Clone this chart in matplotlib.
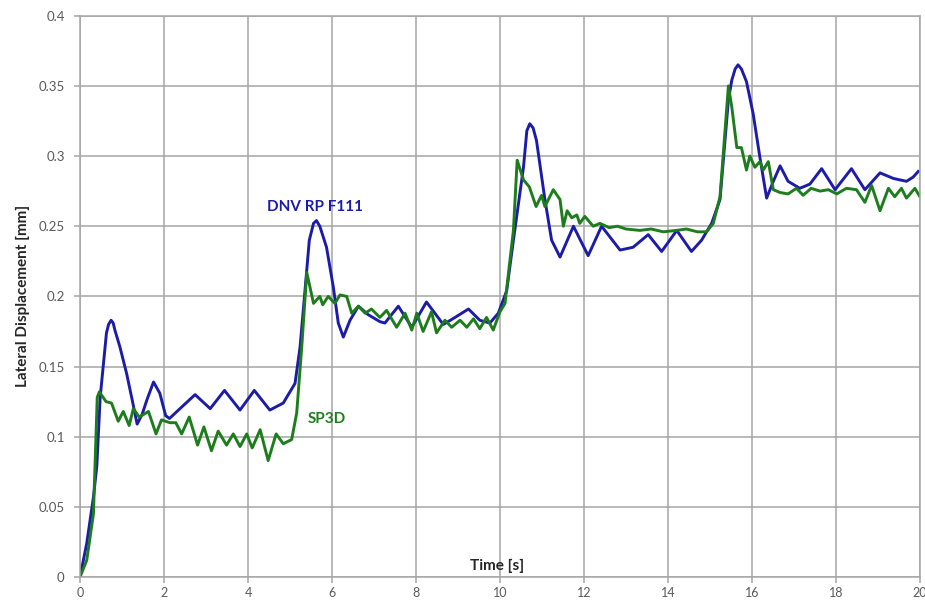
"""Lateral displacement time history: DNV RP F111 vs SP3D."""

import matplotlib
matplotlib.use("Agg")
import matplotlib.pyplot as plt
import numpy as np

plt.rcParams["font.family"] = ["Lato", "DejaVu Sans"]

# time [s] / lateral displacement [mm]
blue_t = [0, 0.16, 0.32, 0.40, 0.48, 0.63, 0.68, 0.74, 0.79, 0.83, 0.95, 1.11,
          1.23, 1.36, 1.48, 1.59, 1.75, 1.90, 2.04, 2.13, 2.38, 2.74,
          3.10, 3.44, 3.81, 4.15, 4.52, 4.84, 5.12, 5.24, 5.38, 5.46, 5.56,
          5.63, 5.71, 5.87, 6.03, 6.15, 6.27, 6.43, 6.63, 6.86, 7.14, 7.26,
          7.58, 7.90, 8.25, 8.65, 8.93, 9.25, 9.52, 9.76, 9.96, 10.16,
          10.32, 10.56, 10.64, 10.71, 10.79, 10.87, 11.07, 11.23, 11.43, 11.75, 12.10, 12.42,
          12.86, 13.17, 13.53, 13.85, 14.21, 14.56, 14.80, 15.04, 15.24, 15.44,
          15.52, 15.60, 15.67, 15.75, 15.87, 16.03, 16.19, 16.35, 16.51, 16.67, 16.86, 17.14,
          17.38, 17.66, 17.98, 18.37, 18.69, 19.05, 19.37, 19.68, 19.84, 19.96]
blue_y = [0, 0.024, 0.057, 0.079, 0.128, 0.174, 0.180, 0.183, 0.181, 0.176, 0.164, 0.145,
          0.128, 0.109, 0.116, 0.126, 0.139, 0.131, 0.115, 0.113, 0.120, 0.130,
          0.120, 0.133, 0.119, 0.133, 0.119, 0.124, 0.138, 0.164, 0.212, 0.240, 0.252,
          0.254, 0.250, 0.235, 0.207, 0.181, 0.171, 0.183, 0.193, 0.187, 0.182, 0.181,
          0.193, 0.178, 0.196, 0.180, 0.185, 0.191, 0.183, 0.181, 0.188, 0.204,
          0.240, 0.292, 0.318, 0.323, 0.320, 0.311, 0.269, 0.240, 0.228, 0.250, 0.229, 0.250,
          0.233, 0.235, 0.244, 0.232, 0.247, 0.232, 0.240, 0.252, 0.269, 0.340,
          0.354, 0.362, 0.365, 0.362, 0.353, 0.330, 0.299, 0.270, 0.282, 0.293, 0.282, 0.277,
          0.280, 0.291, 0.276, 0.291, 0.276, 0.288, 0.284, 0.282, 0.285, 0.289]

green_t = [0, 0.16, 0.32, 0.41, 0.46, 0.62, 0.75, 0.91, 1.03, 1.17,
           1.27, 1.41, 1.63, 1.81, 1.94, 2.14, 2.28, 2.42, 2.60, 2.80,
           2.95, 3.13, 3.29, 3.49, 3.65, 3.81, 3.97, 4.10, 4.29, 4.48,
           4.67, 4.84, 5.04, 5.16, 5.28, 5.40, 5.56, 5.71, 5.78, 5.91,
           6.07, 6.19, 6.35, 6.47, 6.63, 6.79, 6.94, 7.14, 7.30, 7.54,
           7.74, 7.90, 8.02, 8.17, 8.37, 8.49, 8.69, 8.85, 9.05, 9.21,
           9.37, 9.52, 9.68, 9.84, 10.00, 10.12, 10.32, 10.41, 10.56, 10.70,
           10.86, 10.99, 11.07, 11.27, 11.43, 11.51, 11.60, 11.71, 11.83, 11.90,
           12.02, 12.22, 12.38, 12.60, 12.80, 13.00, 13.33, 13.60, 13.89, 14.20,
           14.44, 14.70, 14.92, 15.08, 15.24, 15.44, 15.52, 15.64, 15.75, 15.87,
           15.95, 16.07, 16.19, 16.27, 16.39, 16.51, 16.67, 16.86, 17.06, 17.22,
           17.41, 17.62, 17.82, 18.02, 18.25, 18.49, 18.69, 18.85, 19.05, 19.25,
           19.40, 19.56, 19.68, 19.88, 20.00]
green_y = [0, 0.012, 0.045, 0.128, 0.132, 0.125, 0.124, 0.111, 0.118, 0.108,
           0.120, 0.114, 0.118, 0.102, 0.112, 0.110, 0.110, 0.102, 0.114, 0.094,
           0.107, 0.090, 0.104, 0.094, 0.102, 0.093, 0.102, 0.092, 0.105, 0.083,
           0.102, 0.095, 0.098, 0.117, 0.164, 0.217, 0.195, 0.200, 0.194, 0.200,
           0.195, 0.201, 0.200, 0.188, 0.193, 0.188, 0.191, 0.185, 0.190, 0.178,
           0.188, 0.176, 0.188, 0.175, 0.189, 0.174, 0.183, 0.178, 0.183, 0.178,
           0.184, 0.177, 0.185, 0.176, 0.189, 0.195, 0.247, 0.297, 0.283, 0.278,
           0.264, 0.272, 0.264, 0.276, 0.269, 0.250, 0.261, 0.256, 0.258, 0.252,
           0.257, 0.250, 0.252, 0.249, 0.250, 0.248, 0.247, 0.248, 0.246, 0.247,
           0.248, 0.246, 0.246, 0.252, 0.271, 0.350, 0.335, 0.306, 0.306, 0.290,
           0.300, 0.292, 0.296, 0.290, 0.296, 0.276, 0.274, 0.273, 0.277, 0.272,
           0.277, 0.275, 0.276, 0.273, 0.277, 0.276, 0.267, 0.279, 0.261, 0.277,
           0.271, 0.277, 0.270, 0.277, 0.271]

BLUE = "#1c1ca8"
GREEN = "#1d7d1d"
GRID = "#a6a6a6"
TICK_TEXT = "#595959"

fig = plt.figure(figsize=(9.25, 6.03), dpi=100)
ax = fig.add_axes([0.0865, 0.043, 0.908, 0.931])

ax.plot(blue_t, blue_y, color=BLUE, lw=2.1, solid_joinstyle="round")
ax.plot(green_t, green_y, color=GREEN, lw=2.1, solid_joinstyle="round")

ax.text(5.6, 0.2635, "DNV RP F111", color=BLUE, fontsize=11,
        fontweight="bold", ha="center", va="center")
ax.text(5.87, 0.1123, "SP3D", color=GREEN, fontsize=11,
        fontweight="bold", ha="center", va="center")

ax.set_xlim(0, 20)
ax.set_ylim(0, 0.4)
ax.set_xticks(np.arange(0, 21, 2))
ax.set_yticks(np.arange(0, 0.401, 0.05))
ax.set_yticklabels(["0", "0.05", "0.1", "0.15", "0.2", "0.25", "0.3", "0.35", "0.4"])
ax.grid(True, color=GRID, lw=1.1)
ax.set_axisbelow(True)
for s in ax.spines.values():
    s.set_color(GRID)
    s.set_linewidth(1.1)
ax.tick_params(colors=GRID, labelcolor=TICK_TEXT, labelsize=9.5, length=4, width=1.1)
ax.tick_params(axis="y", pad=7)
ax.tick_params(axis="x", pad=3, labelsize=9)

ax.set_xlabel("Time [s]", fontsize=11, fontweight="bold", color="#262626")
ax.xaxis.set_label_coords(0.497, 0.032)
ax.set_ylabel("Lateral Displacement [mm]", fontsize=11, fontweight="bold",
              color="#262626", labelpad=6)

fig.savefig("out.png", dpi=100)
